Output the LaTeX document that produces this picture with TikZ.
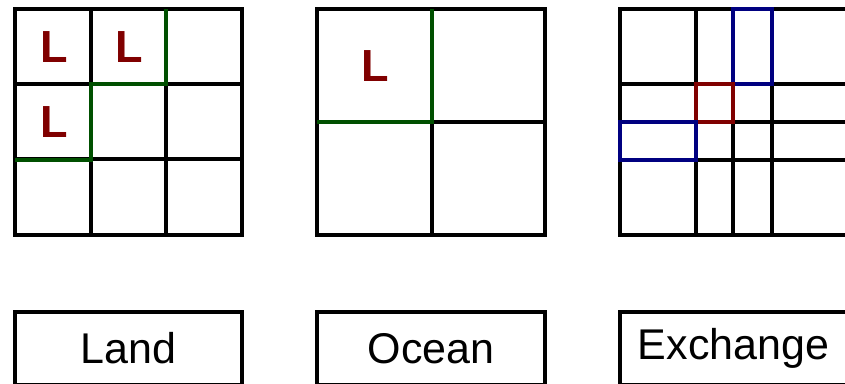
\documentclass[tikz,border=0pt]{standalone}
\usepackage{fontspec}
\setmainfont{Liberation Sans}
\usetikzlibrary{positioning}
\usepackage{xcolor}
\definecolor{landred}{RGB}{128,0,0}
\definecolor{coastgreen}{RGB}{0,80,0}
\definecolor{xchblue}{RGB}{0,0,128}

\begin{document}
\begin{tikzpicture}[
  x=1pt, y=-1pt,
  gridline/.style={line width=3.2pt},
  coast/.style={draw=coastgreen, line width=4.2pt},
  xcell/.style={line width=4.4pt},
  landmark/.style={text=landred, inner sep=0pt, font=\fontsize{45}{50}\selectfont\bfseries},
  compbox/.style={draw, line width=3.2pt, minimum height=73pt, inner sep=0pt, font=\fontsize{43}{50}\selectfont},
]
\path[use as bounding box, clip] (0,0) rectangle (845,383);

% Land grid (3x3)
\draw[gridline] (15,9) rectangle (242,235);
\foreach \p in {91,166} {
  \draw[gridline] (\p,9) -- (\p,235);
  \draw[gridline] (15,\p-7) -- (242,\p-7);
}
\draw[coast] (15,160) -- (91,160) -- (91,84) -- (166,84) -- (166,9);

% Ocean grid (2x2)
\draw[gridline] (317,9) rectangle (545,235);
\draw[gridline] (432,9) -- (432,235);
\draw[gridline] (317,122) -- (545,122);
\draw[coast] (317,122) -- (432,122) -- (432,9);

% Exchange grid (both sets of lines)
\draw[gridline] (620,9) rectangle (847,235);
\foreach \p in {696,733,772}
  \draw[gridline] (\p,9) -- (\p,235);
\foreach \q in {84,122,160}
  \draw[gridline] (620,\q) -- (847,\q);
\draw[xcell, draw=xchblue] (733,9) rectangle (772,84);
\draw[xcell, draw=landred] (696,84) rectangle (733,122);
\draw[xcell, draw=xchblue] (620,122) rectangle (696,160);

% Land marks
\node[landmark] (landL1) at (54,47) {L};
\node[landmark] (landL2) at (129,47) {L};
\node[landmark] (landL3) at (54,122) {L};
\node[landmark] (oceanL) at (375,66) {L};

% Component boxes
\node[compbox, minimum width=227pt] (land) at (128.5,348.5) {Land};
\node[compbox, minimum width=228pt] (ocean) at (431,348.5) {Ocean};
\node[compbox, minimum width=227pt] (exchange) at (733.5,348.5) {Exchange};

\end{tikzpicture}
\end{document}
